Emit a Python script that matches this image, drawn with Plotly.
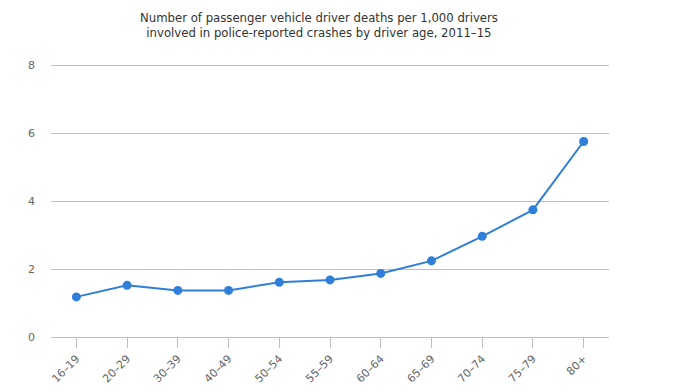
import plotly.graph_objects as go

age_groups = ["16–19", "20–29", "30–39", "40–49", "50–54", "55–59",
              "60–64", "65–69", "70–74", "75–79", "80+"]
deaths_per_1000 = [1.18, 1.52, 1.37, 1.37, 1.61, 1.68, 1.87, 2.24, 2.96, 3.74, 5.75]
y_ticks = [0, 2, 4, 6, 8]

title_text = ("Number of passenger vehicle driver deaths per 1,000 drivers<br>"
              "involved in police-reported crashes by driver age, 2011–15")

FONT = "DejaVu Sans, Verdana, sans-serif"

fig = go.Figure()
fig.add_trace(go.Scatter(
    x=age_groups, y=deaths_per_1000, mode="lines+markers",
    line=dict(color="#2f7ed8", width=2),
    marker=dict(color="#2f7ed8", size=9),
    hoverinfo="x+y", showlegend=False,
))

fig.update_layout(
    width=696, height=391,
    margin=dict(l=51, r=87, t=64, b=54),
    paper_bgcolor="white", plot_bgcolor="white",
    font=dict(family=FONT, color="#666666", size=11),
    annotations=[dict(
        text=title_text, xref="paper", yref="paper", x=0.481, y=1.0,
        xanchor="center", yanchor="bottom", yshift=22, showarrow=False,
        font=dict(family=FONT, size=11.7, color="#333333"), align="center",
    )],
)
fig.update_xaxes(
    type="category", range=[-0.5, 10.5], automargin=False,
    showline=True, linecolor="#c0c0c0", linewidth=1,
    ticks="outside", ticklen=10, tickcolor="#c0c0c0",
    tickangle=-45, showgrid=False, zeroline=False,
    tickfont=dict(family=FONT, size=11, color="#666666"),
)
fig.update_yaxes(
    range=[0, 8.03], tickvals=y_ticks, automargin=False,
    showgrid=True, gridcolor="#c0c0c0", gridwidth=1,
    zeroline=False, showline=False,
    ticks="", ticklabelstandoff=15,
    tickfont=dict(family=FONT, size=11, color="#666666"),
)

fig.write_html(
    "out.html",
    config={"displayModeBar": False},
    post_script="document.body.style.margin='0px';document.body.style.overflow='hidden';",
)
